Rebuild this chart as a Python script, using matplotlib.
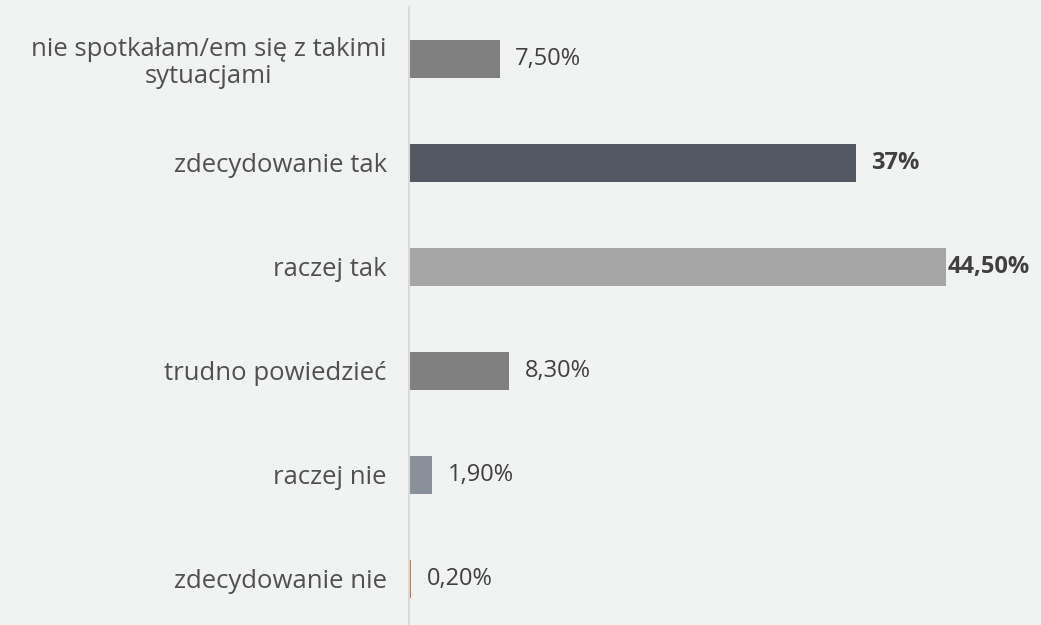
import matplotlib.pyplot as plt

categories = ['nie spotkałam/em się z takimi\nsytuacjami', 'zdecydowanie tak', 'raczej tak',
              'trudno powiedzieć', 'raczej nie', 'zdecydowanie nie']
values = [7.5, 37, 44.5, 8.3, 1.9, 0.2]
value_labels = ['7,50%', '37%', '44,50%', '8,30%', '1,90%', '0,20%']
bold = [False, True, True, False, False, False]
colors = ['#808080', '#535862', '#a6a6a6', '#808080', '#8a9099', '#c0733a']

bg = '#f1f2f2'
W, H = 1041, 625
fig = plt.figure(figsize=(W / 100, H / 100), dpi=100, facecolor=bg)
ax = fig.add_axes([409 / W, 0, 1 - 409 / W, 1 - 7 / H], facecolor=bg)

pos = list(range(len(values)))
ax.barh(pos, values, height=0.36, color=colors)
ax.set_xlim(0, (W - 409) / 12.07)
ax.set_ylim(5.5 - 6 / 104, -0.5)

for sp in ['top', 'right', 'bottom']:
    ax.spines[sp].set_visible(False)
ax.spines['left'].set_color('#d9d9d9')
ax.spines['left'].set_linewidth(1.5)
ax.set_xticks([])
ax.set_yticks(pos)
ax.set_yticklabels(categories, fontsize=18.5, color='#505050', family='Open Sans')
for lbl in ax.get_yticklabels():
    lbl.set_multialignment('center')
    lbl.set_linespacing(1.1)
ax.tick_params(axis='y', length=0, pad=16)

for i, (v, t, b) in enumerate(zip(values, value_labels, bold)):
    off = 0.15 if i == 2 else 1.3
    ax.text(v + off, i, t, va='center', ha='left', fontsize=17, family='Open Sans',
            fontweight='bold' if b else 'normal', color='#404040')

fig.savefig('out.png', dpi=100, facecolor=bg)
